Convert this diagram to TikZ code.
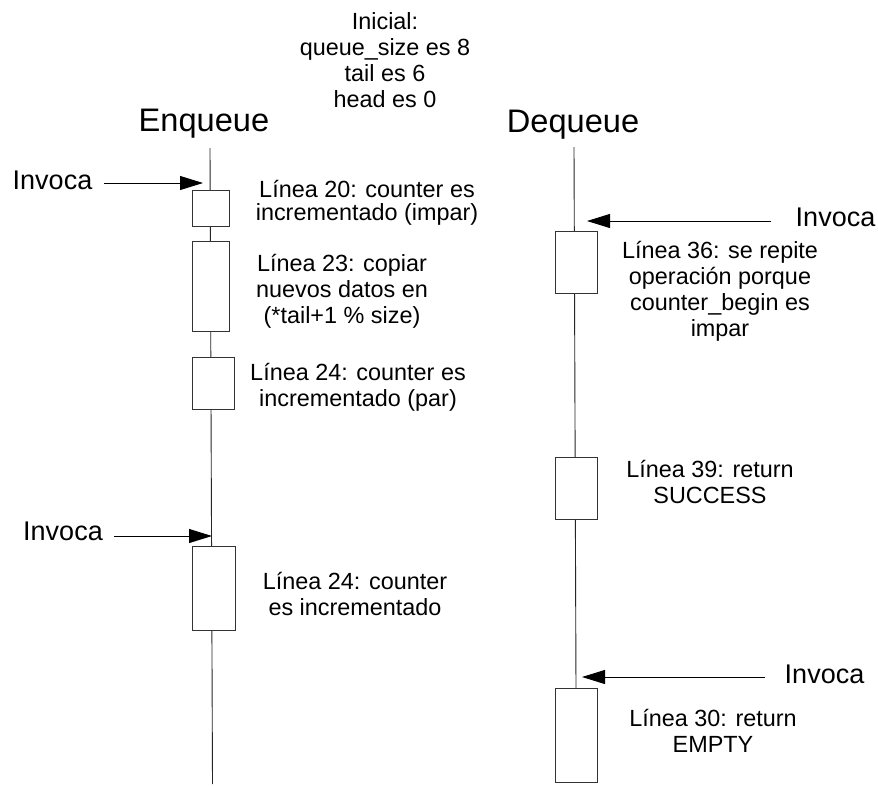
\documentclass[tikz,border=0pt]{standalone}
\usepackage{fontspec}
\setmainfont{Liberation Sans}
\usetikzlibrary{arrows.meta}
\begin{document}
\begin{tikzpicture}[x=1pt,y=-1pt,
  life/.style={draw=black!85,line width=0.9pt},
  actbox/.style={draw=black!80,line width=0.9pt,fill=white},
  call/.style={draw=black,line width=0.9pt,-{Triangle[length=23pt,width=14pt]}},
  body/.style={font=\fontsize{23.4}{26}\selectfont,align=center,inner sep=0pt},
  title/.style={font=\fontsize{32.6}{38}\selectfont,inner sep=0pt,anchor=base},
  invlbl/.style={font=\fontsize{27}{30}\selectfont,inner sep=0pt,anchor=base}]
\useasboundingbox[fill=white] (0,0) rectangle (878,785);

% titles and initial note
\node[body] (ini) at (385,60) {Inicial:\\queue\_size es 8\\tail es 6\\head es 0};
\node[title] (enq) at (204,131) {Enqueue};
\node[title] (deq) at (573,132) {Dequeue};

% lifelines
\coordinate (et) at (210,148);
\coordinate (eb) at (212.5,784);
\coordinate (dt) at (574,147);
\coordinate (db) at (576,690);
\draw[life] (et) -- (eb);
\draw[life] (dt) -- (db);

% Enqueue activation boxes
\draw[actbox] (192,190) rectangle (229,226);
\draw[actbox] (192,241) rectangle (229,331);
\draw[actbox] (192,357) rectangle (234,409);
\draw[actbox] (192,546) rectangle (235,630);

% Dequeue activation boxes
\draw[actbox] (555,231) rectangle (597,293);
\draw[actbox] (555,457) rectangle (597,519);
\draw[actbox] (555,688) rectangle (597,782);

% Enqueue texts
\node[body,font=\fontsize{23.4}{23}\selectfont] (l20) at (367,203) {Línea 20: counter es\\incrementado (impar)};
\node[body] (l23) at (342,291) {Línea 23: copiar\\nuevos datos en\\(*tail+1 \% size)};
\node[body] (l24a) at (358,387) {Línea 24: counter es\\incrementado (par)};
\node[body] (l24b) at (355,594) {Línea 24: counter\\es incrementado};

% Dequeue texts
\node[body] (l36) at (720,291) {Línea 36: se repite\\operación porque\\counter\_begin es\\impar};
\node[body] (l39) at (710,482) {Línea 39: return\\SUCCESS};
\node[body] (l30) at (713,731) {Línea 30: return\\EMPTY};

% invocations
\node[invlbl] (inv1) at (52.5,189) {Invoca};
\node[invlbl] (inv2) at (63,540) {Invoca};
\node[invlbl] (inv3) at (835.5,226) {Invoca};
\node[invlbl] (inv4) at (824.5,683) {Invoca};

\coordinate (a1s) at (104,183);  \coordinate (a1e) at (203,183);
\coordinate (a2s) at (114,536);  \coordinate (a2e) at (212,536);
\coordinate (a3s) at (771,221);  \coordinate (a3e) at (587,221);
\coordinate (a4s) at (765,677);  \coordinate (a4e) at (582,677);
\draw[call] (a1s) -- (a1e);
\draw[call] (a2s) -- (a2e);
\draw[call] (a3s) -- (a3e);
\draw[call] (a4s) -- (a4e);
\end{tikzpicture}
\end{document}
